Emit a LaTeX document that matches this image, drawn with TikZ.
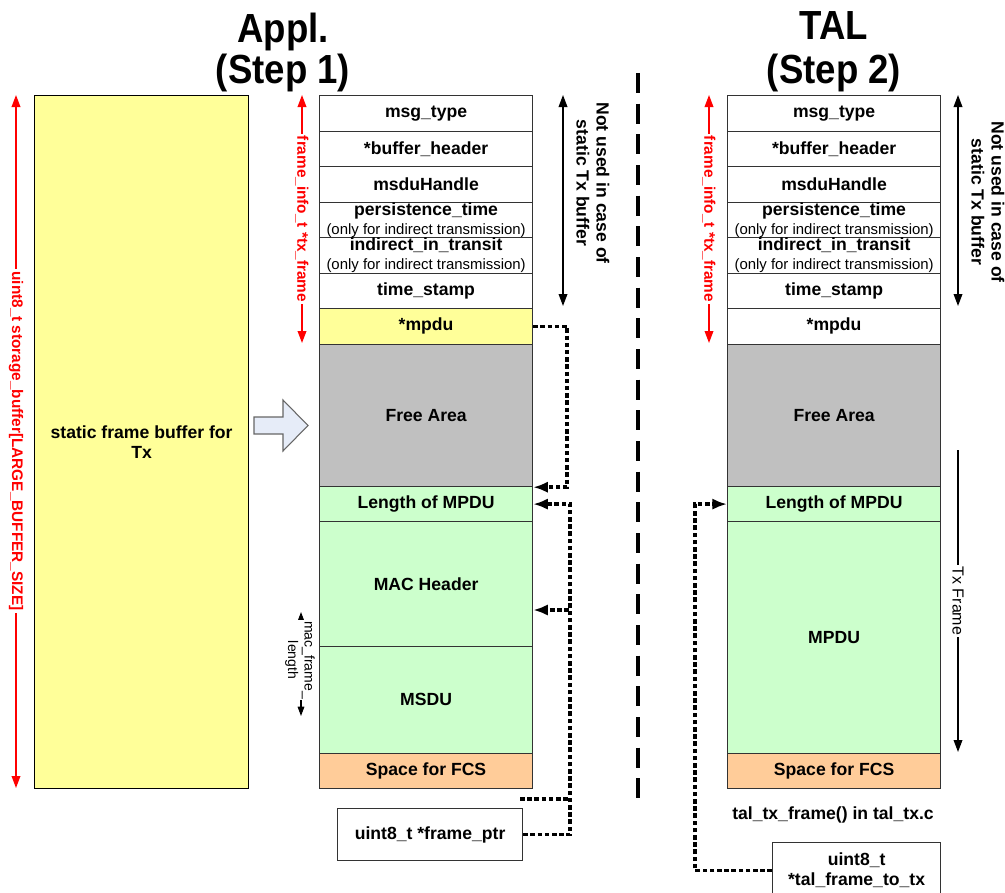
\documentclass[tikz,border=0pt]{standalone}
\usepackage{fontspec}
\setmainfont{Liberation Sans}
\usetikzlibrary{arrows.meta,calc}
\definecolor{cyel}{HTML}{FFFF99}
\definecolor{cgray}{HTML}{C0C0C0}
\definecolor{cgreen}{HTML}{CCFFCC}
\definecolor{corange}{HTML}{FFCC99}
\definecolor{cblue}{HTML}{E6ECF8}
\begin{document}
\begin{tikzpicture}[x=0.75pt,y=-0.75pt,
  cell/.style={draw=black!80, line width=0.9pt, minimum width=159.75pt, inner sep=0pt,
    anchor=north west, align=center, font=\fontsize{13.2}{15}\selectfont\bfseries},
  rowh/.style={minimum height=26.625pt},
  ttl/.style={anchor=base, inner sep=0pt, font=\fontsize{30.5}{30.5}\selectfont\bfseries},
  redlbl/.style={text=red, fill=white, inner sep=1.5pt, rotate=-90,
    font=\fontsize{11.5}{13}\selectfont\bfseries},
  redarr/.style={draw=red, line width=1.1pt,
    {Triangle[width=6.5pt,length=9pt]}-{Triangle[width=6.5pt,length=9pt]}},
  blkarr/.style={draw=black, line width=1.1pt,
    {Triangle[width=6.5pt,length=9pt]}-{Triangle[width=6.5pt,length=9pt]}},
  notlbl/.style={rotate=-90, align=center, inner sep=0pt,
    font=\fontsize{13.2}{15}\selectfont\bfseries},
  dotconn/.style={line width=2.6pt, dash pattern=on 3.4pt off 2pt},
  dotarr/.style={dotconn, -{Latex[length=11pt,width=8.5pt]}},
  plain/.style={draw=black!80, line width=0.9pt, inner sep=0pt, align=center,
    font=\fontsize{13.2}{15}\selectfont\bfseries}
]
\useasboundingbox (0,0) rectangle (1005,892);

% titles
\node[ttl] (tA1) at (283,43) {\scalebox{0.9}[1]{Appl.}};
\node[ttl] (tA2) at (283,84) {\scalebox{0.9}[1]{(Step 1)}};
\node[ttl] (tB1) at (834,40) {\scalebox{0.9}[1]{TAL}};
\node[ttl] (tB2) at (834,84) {\scalebox{0.9}[1]{(Step 2)}};

% left static buffer
\node[plain, draw=black, fill=cyel, anchor=north west, minimum width=160.5pt, minimum height=519.75pt] (sbuf) at (34,95) {static frame buffer for\\Tx};
\coordinate (rlT) at (16,95);
\coordinate (rlB) at (16,788);
\draw[redarr] (rlT) -- (rlB);
\node[redlbl] (rlL) at (16,441) {uint8\_t storage\_buffer[LARGE\_BUFFER\_SIZE]};

% hollow arrow
\draw[draw=black!60, line width=0.8pt, fill=cblue] (254,417) -- (283,417) -- (283,400) -- (308,425.5) -- (283,451) -- (283,434) -- (254,434) -- cycle;

% middle column
\node[cell, rowh] (a1) at (319,95) {msg\_type};
\node[cell, rowh] (a2) at (319,130.5) {*buffer\_header};
\node[cell, rowh] (a3) at (319,166) {msduHandle};
\node[cell, rowh] (a4) at (319,201.5) {persistence\_time\\[-1pt]{\fontsize{11.2}{13}\selectfont\mdseries (only for indirect transmission)}};
\node[cell, rowh] (a5) at (319,237) {indirect\_in\_transit\\[-1pt]{\fontsize{11.2}{13}\selectfont\mdseries (only for indirect transmission)}};
\node[cell, rowh] (a6) at (319,272.5) {time\_stamp};
\node[cell, rowh, fill=cyel] (a7) at (319,308) {*mpdu};
\node[cell, fill=cgray, minimum height=106.875pt] (a8) at (319,343.5) {Free Area};
\node[cell, fill=cgreen, minimum height=26.25pt] (a9) at (319,486) {Length of MPDU};
\node[cell, fill=cgreen, minimum height=93.75pt] (a10) at (319,521) {MAC Header};
\node[cell, fill=cgreen, minimum height=79.875pt] (a11) at (319,646) {MSDU};
\node[cell, rowh, fill=corange] (a12) at (319,752.5) {Space for FCS};

% right column
\node[cell, rowh] (b1) at (727,95) {msg\_type};
\node[cell, rowh] (b2) at (727,130.5) {*buffer\_header};
\node[cell, rowh] (b3) at (727,166) {msduHandle};
\node[cell, rowh] (b4) at (727,201.5) {persistence\_time\\[-1pt]{\fontsize{11.2}{13}\selectfont\mdseries (only for indirect transmission)}};
\node[cell, rowh] (b5) at (727,237) {indirect\_in\_transit\\[-1pt]{\fontsize{11.2}{13}\selectfont\mdseries (only for indirect transmission)}};
\node[cell, rowh] (b6) at (727,272.5) {time\_stamp};
\node[cell, rowh] (b7) at (727,308) {*mpdu};
\node[cell, fill=cgray, minimum height=106.875pt] (b8) at (727,343.5) {Free Area};
\node[cell, fill=cgreen, minimum height=26.25pt] (b9) at (727,486) {Length of MPDU};
\node[cell, fill=cgreen, minimum height=173.625pt] (b10) at (727,521) {MPDU};
\node[cell, rowh, fill=corange] (b11) at (727,752.5) {Space for FCS};

% red frame_info arrows
\coordinate (raT) at (302,95);
\coordinate (raB) at (302,343);
\draw[redarr] (raT) -- (raB);
\node[redlbl] (raL) at (302,219) {frame\_info\_t *tx\_frame};
\coordinate (rbT) at (709,95);
\coordinate (rbB) at (709,343);
\draw[redarr] (rbT) -- (rbB);
\node[redlbl] (rbL) at (709,219) {frame\_info\_t *tx\_frame};

% not used arrows
\coordinate (naT) at (563,95);
\coordinate (naB) at (563,306);
\draw[blkarr] (naT) -- (naB);
\node[notlbl] (naL) at (593,183) {Not used in case of\\static Tx buffer};
\coordinate (nbT) at (958,95);
\coordinate (nbB) at (958,306);
\draw[blkarr] (nbT) -- (nbB);
\node[notlbl] (nbL) at (988,202) {Not used in case of\\static Tx buffer};

% mac_frame_length
\coordinate (mlT) at (301,612);
\coordinate (mlB) at (301,716);
\draw[line width=0.8pt, {Triangle[width=5pt,length=7pt]}-{Triangle[width=5pt,length=7pt]}] (mlT) -- (mlB);
\node[rotate=-90, align=center, fill=white, inner sep=0.5pt, font=\fontsize{10.5}{12.5}\selectfont] (mlL) at (300,660) {mac\_frame\_\\length};

% Tx Frame
\coordinate (txT) at (958,450);
\coordinate (txB) at (958,752);
\draw[line width=1.1pt, -{Triangle[width=6.5pt,length=9pt]}] (txT) -- (txB);
\node[rotate=-90, fill=white, inner sep=1pt, font=\fontsize{12}{13}\selectfont] (txL) at (958,601) {Tx Frame};

% divider
\coordinate (dvT) at (638,73);
\coordinate (dvB) at (638,808);
\draw[line width=3pt, dash pattern=on 15pt off 8pt] (dvT) -- (dvB);

% bottom boxes / labels
\node[plain, anchor=north west, minimum width=138.75pt, minimum height=39pt] (fptr) at (337,808) {uint8\_t *frame\_ptr};
\node[inner sep=0pt, font=\fontsize{13.2}{15}\selectfont\bfseries] (ttx) at (833,815) {tal\_tx\_frame() in tal\_tx.c};
\node[plain, anchor=north west, minimum width=126pt, minimum height=42pt, fill=white] (tbox) at (772,842) {uint8\_t\\*tal\_frame\_to\_tx};

% dotted connectors
\draw[dotarr] (a7.east) -- ++(34,0) |- (a8.south east);
\draw[dotarr] (fptr.east) -- ++(47,0) coordinate (j1) |- (a9.east);
\coordinate (j2) at (569,610);
\draw[dotarr] (j2) -- (j2 -| a10.east);
\coordinate (j3) at (520,799);
\draw[dotconn] (j3) -- (j3 -| j1);
\draw[dotarr] (tbox.west) -- ++(-77,0) |- (b9.west);
\end{tikzpicture}
\end{document}
